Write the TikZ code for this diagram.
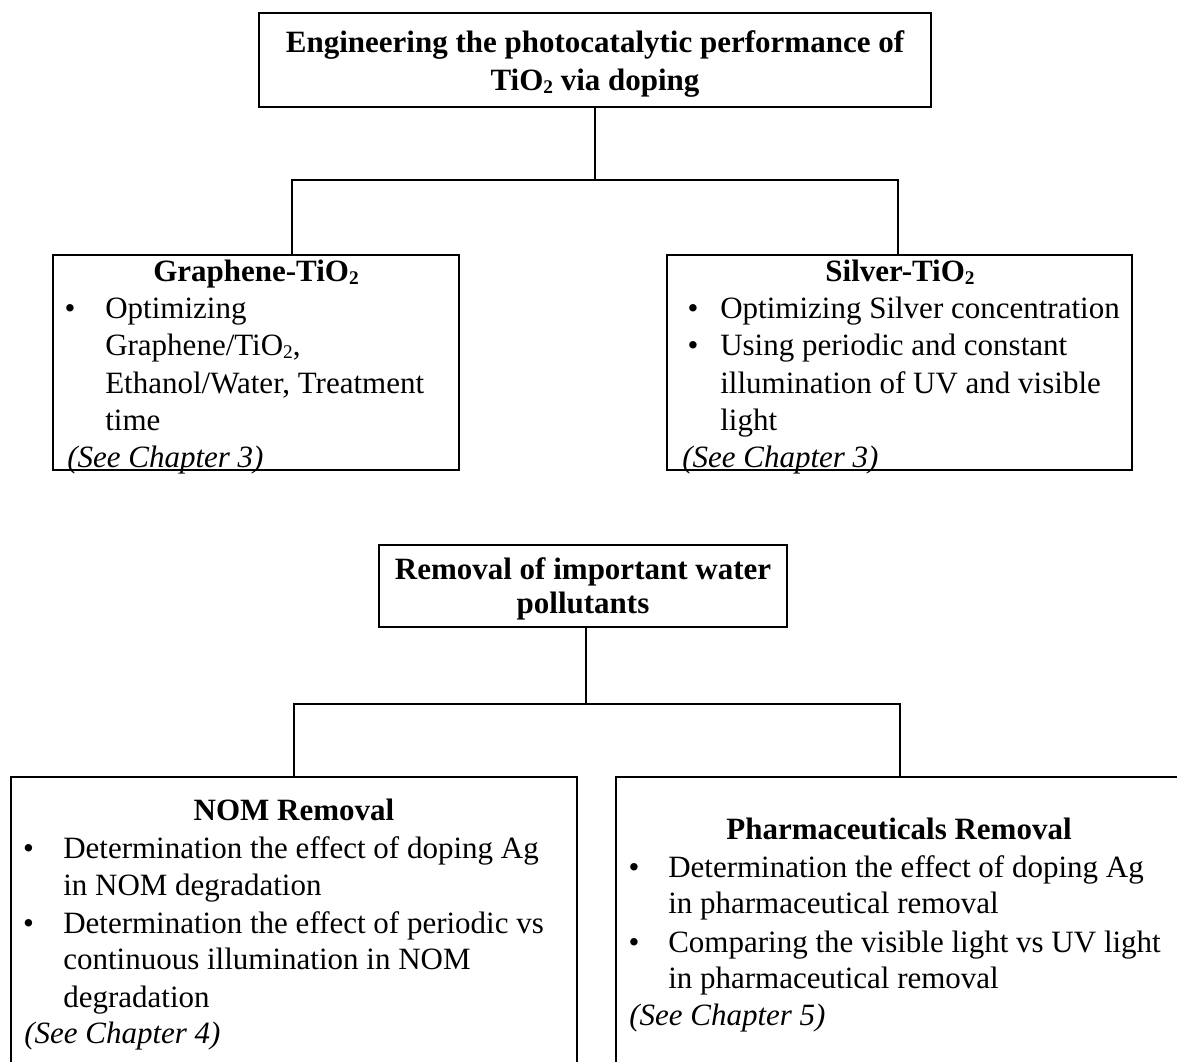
\documentclass[tikz,border=0pt]{standalone}
\usepackage{fontspec}
\setmainfont{Liberation Serif}
\usetikzlibrary{fit}
\newcommand\basefont{\fontsize{23.25pt}{28pt}\selectfont}
\newcommand\sbtwo{\raisebox{-0.12em}{\fontsize{14.5pt}{14.5pt}\selectfont 2}}
\tikzset{
  box/.style={draw, line width=1.5pt, inner sep=0pt, outer sep=0pt},
  conn/.style={line width=1.1pt},
  ttl/.style={font=\basefont\bfseries, anchor=base, inner sep=0pt},
  body/.style={font=\basefont, anchor=base west, inner sep=0pt},
  bul/.style={font=\basefont, anchor=base, inner sep=0pt},
  see/.style={font=\basefont\itshape, anchor=base west, inner sep=0pt},
}
\begin{document}
\begin{tikzpicture}[x=0.75pt, y=-0.75pt]
\useasboundingbox (0,0) rectangle (1177,1061);
\clip (0,0) rectangle (1177,1061);

% boxes
\node[box, fit={(259,12.7) (931,107)}] (topbox) {};
\node[box, fit={(53,255) (459,470)}] (grap) {};
\node[box, fit={(667,255) (1132,470)}] (silv) {};
\node[box, fit={(379,545) (787,627)}] (rem) {};
\node[box, fit={(10.7,777) (577,1120)}] (nom) {};
\node[box, fit={(616,777) (1240,1120)}] (pha) {};

% connectors
\coordinate (jl) at (292,180);
\coordinate (jr) at (898,180);
\draw[conn] (topbox.south) -- (topbox.south |- jl);
\draw[conn] (grap.north -| jl) -- (jl) -- (jr) -- (silv.north -| jr);
\coordinate (kl) at (294,704);
\coordinate (km) at (586,704);
\coordinate (kr) at (900,704);
\draw[conn] (rem.south -| km) -- (km);
\draw[conn] (nom.north -| kl) -- (kl) -- (kr) -- (pha.north -| kr);

% top box text
\node[ttl] (t1) at (595,52) {Engineering the photocatalytic performance of};
\node[ttl] (t2) at (595,90) {TiO\sbtwo{} via doping};

% graphene box
\node[ttl] (g0) at (256,281) {Graphene-TiO\sbtwo};
\node[bul] (gb1) at (70,318) {\textbullet};
\node[body] (g1) at (105,318) {Optimizing};
\node[body] (g2) at (105,355) {Graphene/TiO\sbtwo,};
\node[body] (g3) at (105,393) {Ethanol/Water, Treatment};
\node[body] (g4) at (105,430) {time};
\node[see] (g5) at (67,467) {(See Chapter 3)};

% silver box
\node[ttl] (s0) at (900,281) {Silver-TiO\sbtwo};
\node[bul] (sb1) at (693,318) {\textbullet};
\node[bul] (sb2) at (693,355) {\textbullet};
\node[body] (s1) at (720,318) {Optimizing Silver concentration};
\node[body] (s2) at (720,355) {Using periodic and constant};
\node[body] (s3) at (720,393) {illumination of UV and visible};
\node[body] (s4) at (720,430) {light};
\node[see] (s5) at (682,467) {(See Chapter 3)};

% removal box
\node[ttl] (r1) at (583,579) {Removal of important water};
\node[ttl] (r2) at (583,613) {pollutants};

% NOM box
\node[ttl] (n0) at (294,820) {NOM Removal};
\node[bul] (nb1) at (28.5,858) {\textbullet};
\node[bul] (nb2) at (28.5,933) {\textbullet};
\node[body] (n1) at (63,858) {Determination the effect of doping Ag};
\node[body] (n2) at (63,895) {in NOM degradation};
\node[body] (n3) at (63,933) {Determination the effect of periodic vs};
\node[body] (n4) at (63,969) {continuous illumination in NOM};
\node[body] (n5) at (63,1007) {degradation};
\node[see] (n6) at (24,1043) {(See Chapter 4)};

% pharmaceuticals box
\node[ttl] (p0) at (899,839) {Pharmaceuticals Removal};
\node[bul] (pb1) at (634,877) {\textbullet};
\node[bul] (pb2) at (634,952) {\textbullet};
\node[body] (p1) at (668,877) {Determination the effect of doping Ag};
\node[body] (p2) at (668,913) {in pharmaceutical removal};
\node[body] (p3) at (668,952) {Comparing the visible light vs UV light};
\node[body] (p4) at (668,988) {in pharmaceutical removal};
\node[see] (p5) at (629,1025) {(See Chapter 5)};
\end{tikzpicture}
\end{document}
